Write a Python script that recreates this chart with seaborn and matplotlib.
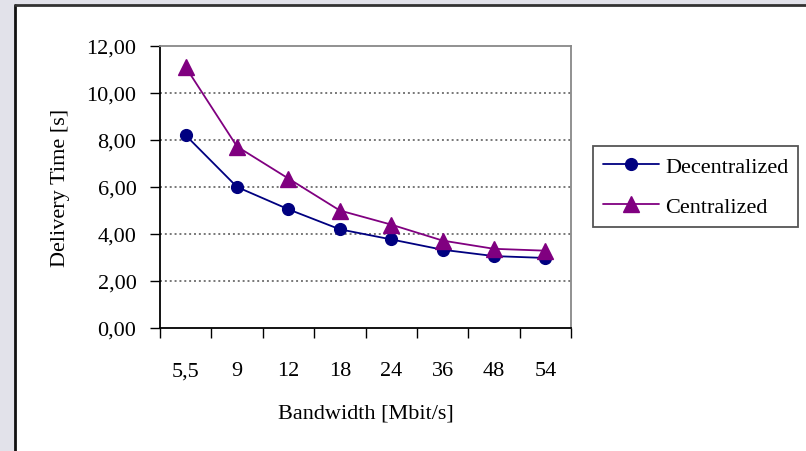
import matplotlib
matplotlib.use("Agg")
import matplotlib.pyplot as plt
import matplotlib.ticker as mticker
from matplotlib.patches import Rectangle
from matplotlib.lines import Line2D
import seaborn as sns
import pandas as pd

bandwidth = ["5,5", "9", "12", "18", "24", "36", "48", "54"]
decentralized = [8.20, 6.00, 5.05, 4.20, 3.77, 3.33, 3.06, 2.98]
centralized = [11.10, 7.72, 6.36, 5.00, 4.40, 3.72, 3.37, 3.29]
series_names = ["Decentralized", "Centralized"]
y_ticks = [0, 2, 4, 6, 8, 10, 12]

df = pd.DataFrame({
    "Bandwidth": bandwidth * 2,
    "Time": decentralized + centralized,
    "Scheme": [series_names[0]] * len(bandwidth) + [series_names[1]] * len(bandwidth),
})

sns.set_theme(style="white")
plt.rcParams["font.family"] = ["Liberation Serif", "DejaVu Serif"]
plt.rcParams.update({"text.color": "black", "axes.labelcolor": "black",
                     "xtick.color": "black", "ytick.color": "black"})

fig = plt.figure(figsize=(8.06, 4.52), dpi=100)
fig.patch.set_facecolor("#e2e2ea")
# white chart panel with dark left/top border
fig.add_artist(Rectangle((15 / 806, 0), 1, 1 - 6 / 452, transform=fig.transFigure,
                         facecolor="white", edgecolor="none", zorder=-5))
fig.add_artist(Line2D([15 / 806, 15 / 806], [0, 1 - 6 / 452], transform=fig.transFigure,
                      color="#111111", lw=2, zorder=-4))
fig.add_artist(Line2D([15 / 806, 1], [1 - 6 / 452, 1 - 6 / 452], transform=fig.transFigure,
                      color="#333333", lw=2, zorder=-4))

ax = fig.add_axes([160 / 806, 1 - 329 / 452, (571 - 160) / 806, (329 - 47) / 452])
ax.set_facecolor("white")

sns.pointplot(data=df, x="Bandwidth", y="Time", hue="Scheme", order=bandwidth,
              hue_order=series_names, palette=["#000080", "#800080"],
              markers=["o", "^"], linestyles=["-", "-"], errorbar=None,
              markersize=8.5, linewidth=1.3, ax=ax)

for ln in ax.lines:
    if ln.get_marker() == "^":
        ln.set_markersize(11)

ax.set_xlim(-0.5, len(bandwidth) - 0.5)
ax.set_ylim(0, 12)
ax.set_yticks(y_ticks)
ax.yaxis.set_major_formatter(mticker.FuncFormatter(lambda v, p: f"{v:.2f}".replace(".", ",")))
ax.set_xticks(range(len(bandwidth)))
ax.set_xticklabels(bandwidth)
ax.set_xticks([i - 0.5 for i in range(len(bandwidth) + 1)], minor=True)
ax.tick_params(axis="x", which="major", length=0, pad=24, labelsize=16, colors="black")
ax.tick_params(axis="x", which="minor", length=7, width=1, direction="out", color="black", bottom=True)
ax.tick_params(axis="y", which="major", length=7, width=1, direction="out", pad=10,
               labelsize=16, color="black", labelcolor="black", left=True)

for y in y_ticks[1:-1]:
    ax.axhline(y, color="#777777", lw=1.4, ls=(0, (1, 1.5)), zorder=0.5)

for side in ["left", "bottom"]:
    ax.spines[side].set_color("black")
    ax.spines[side].set_linewidth(1.3)
for side in ["top", "right"]:
    ax.spines[side].set_visible(True)
    ax.spines[side].set_color("#888888")
    ax.spines[side].set_linewidth(1.3)

ax.set_xlabel("Bandwidth [Mbit/s]", fontsize=16, labelpad=17, color="black")
ax.set_ylabel("Delivery Time [s]", fontsize=16, labelpad=12, color="black")

handles, labels = ax.get_legend_handles_labels()
leg = ax.legend(handles, labels, loc="upper left", bbox_to_anchor=(593 / 806, 1 - 147 / 452),
                bbox_transform=fig.transFigure, borderaxespad=0, fontsize=16,
                frameon=True, fancybox=False, framealpha=1, edgecolor="#555555",
                handlelength=2.5, handletextpad=0.3, labelspacing=0.9, borderpad=0.45,
                labelcolor="black")
leg.get_frame().set_linewidth(1.3)

fig.savefig("out.png", dpi=100, facecolor=fig.get_facecolor())
